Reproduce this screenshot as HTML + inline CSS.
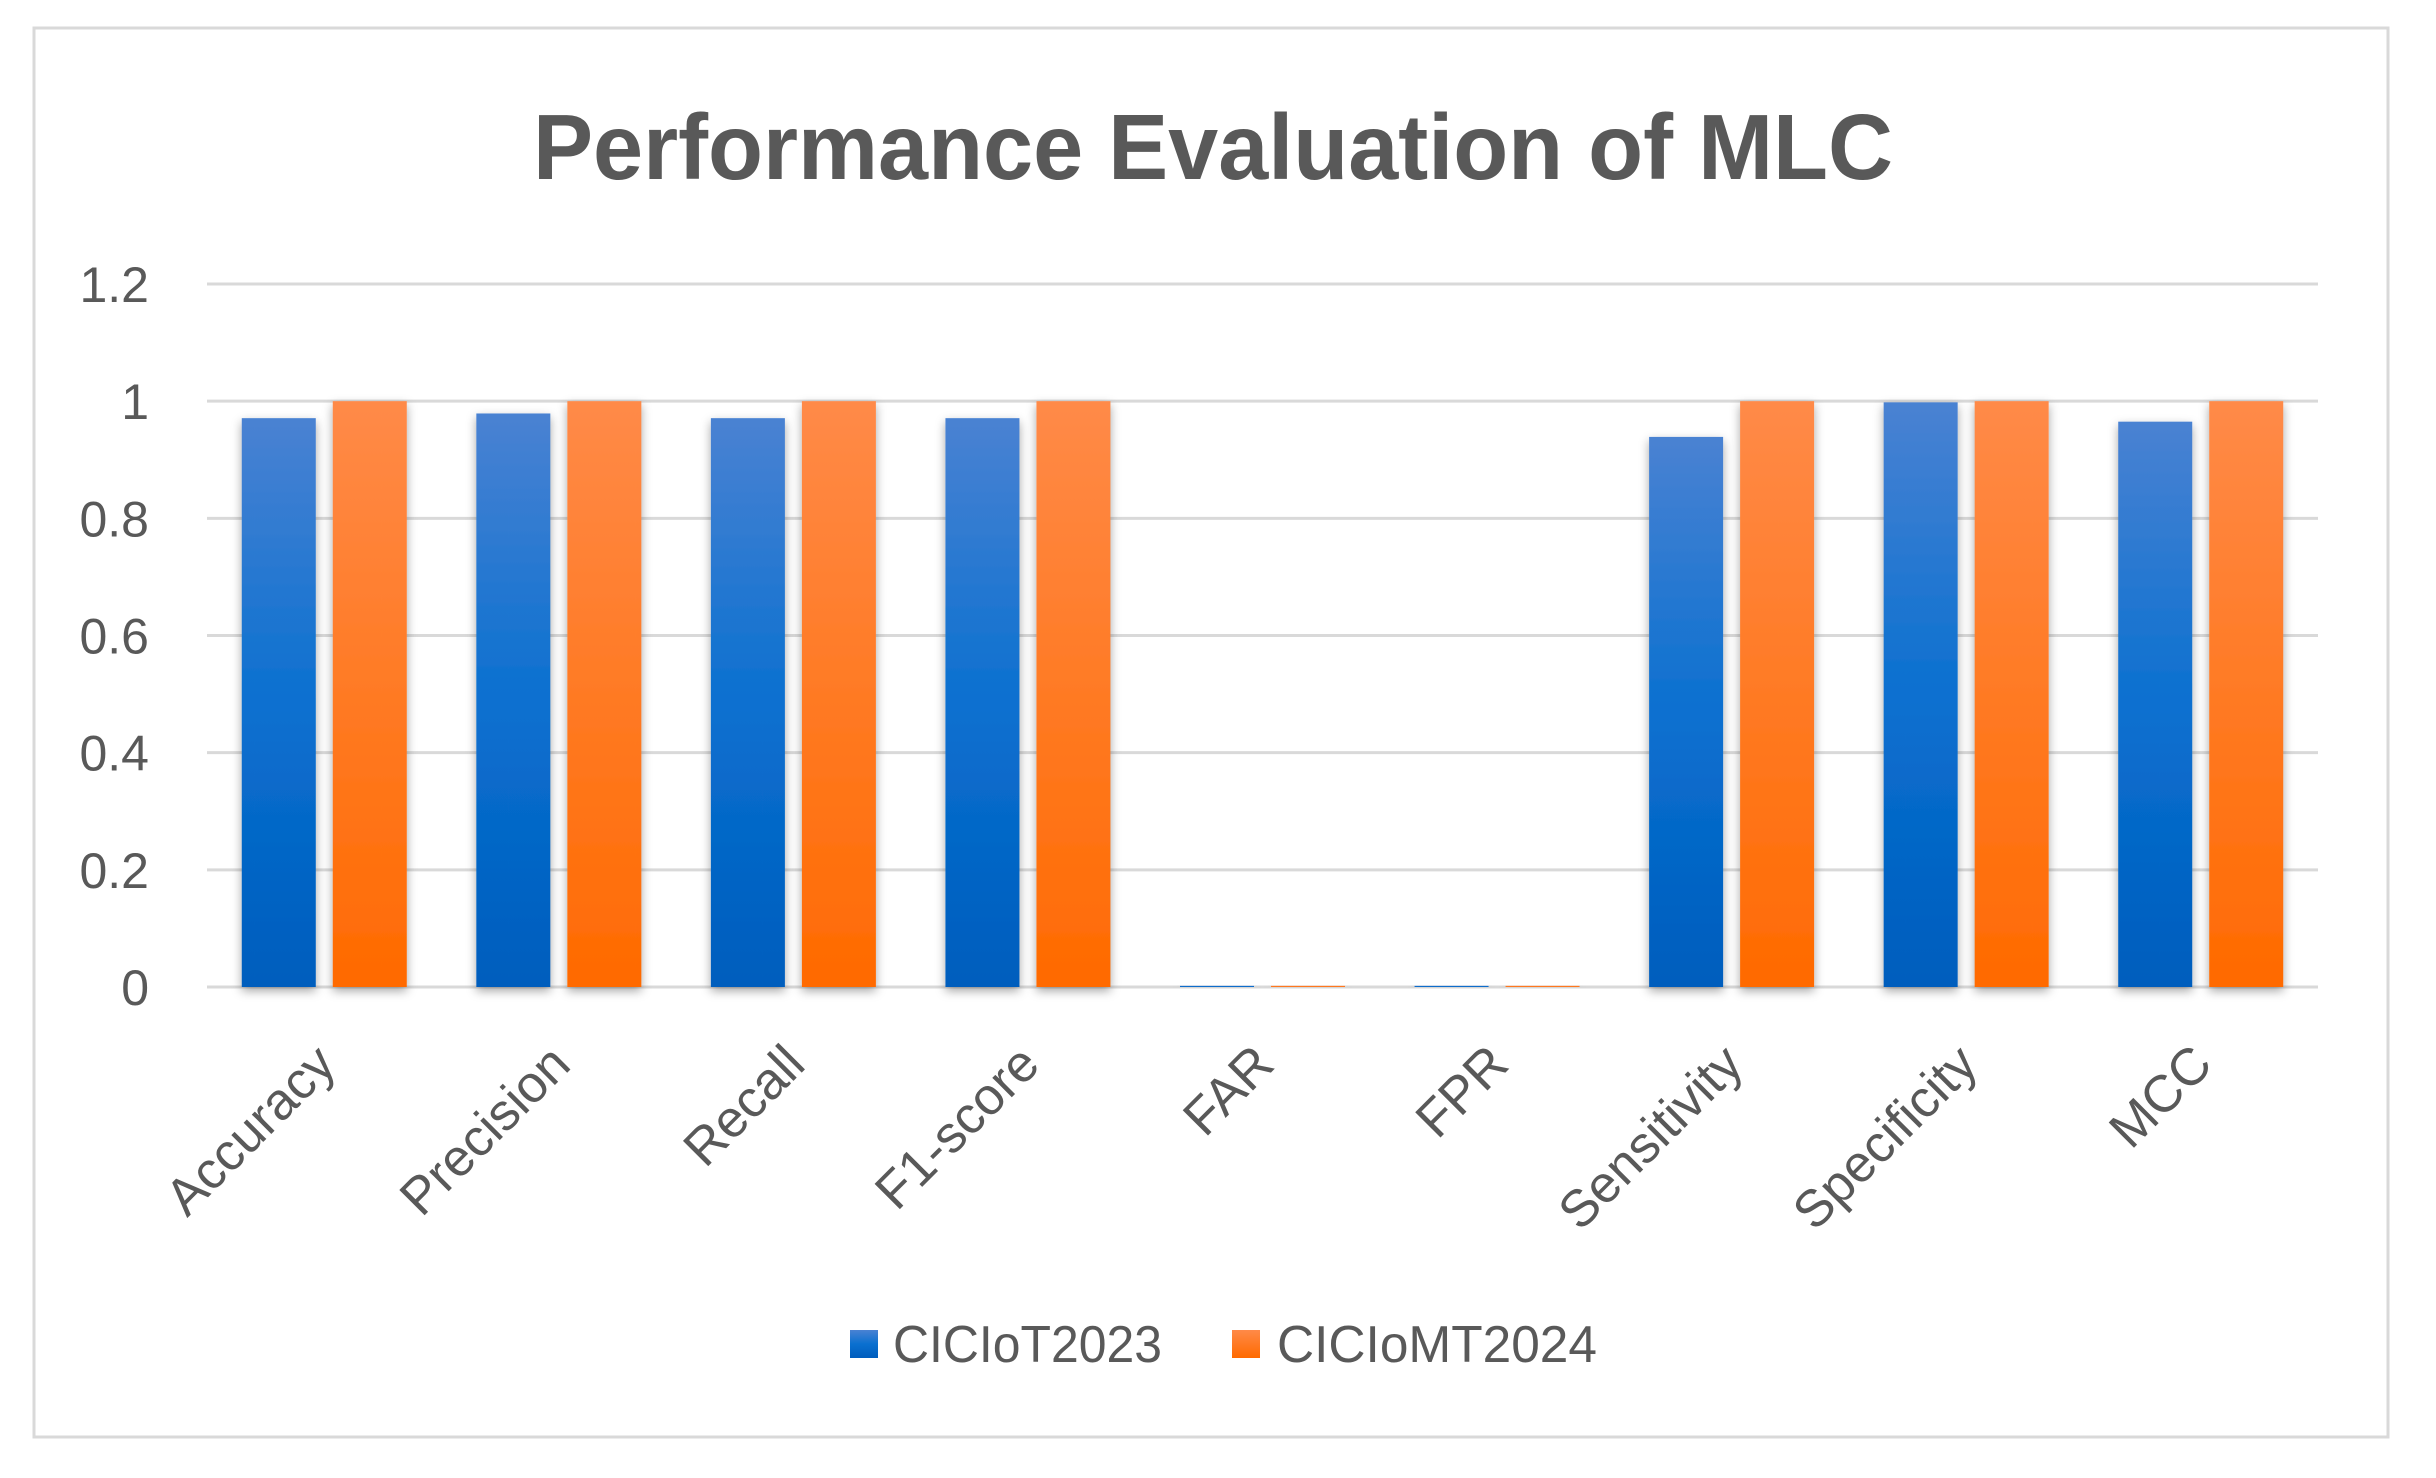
<!DOCTYPE html>
<html><head><meta charset="utf-8"><style>
html,body{margin:0;padding:0;background:#fff;}
svg{display:block;}
text{font-family:"Liberation Sans",sans-serif;fill:#595959;}
</style></head><body>
<svg id="chart" width="2436" height="1478" viewBox="0 0 2436 1478" xmlns="http://www.w3.org/2000/svg">
<defs>
<linearGradient id="gBlue" x1="0" y1="0" x2="0" y2="1"><stop offset="0" stop-color="#4a82d2"/><stop offset="0.5" stop-color="#0a70d0"/><stop offset="1" stop-color="#005dbd"/></linearGradient>
<linearGradient id="gOrange" x1="0" y1="0" x2="0" y2="1"><stop offset="0" stop-color="#ff8a48"/><stop offset="1" stop-color="#ff6a00"/></linearGradient>
<filter id="sh" x="-30%" y="-5%" width="160%" height="115%"><feDropShadow dx="0" dy="4" stdDeviation="5" flood-color="#000" flood-opacity="0.35"/></filter>
</defs>
<rect x="34" y="28" width="2354" height="1409" fill="#fff" stroke="#d9d9d9" stroke-width="3"/>
<text x="533" y="179" font-size="93" font-weight="bold" textLength="1360" lengthAdjust="spacingAndGlyphs">Performance Evaluation of MLC</text>
<g id="grid"></g>
<g id="ylabels"></g>
<g id="bars"></g>
<g id="xlabels"></g>
<g>
<rect x="850" y="1330" width="28" height="28" fill="url(#gBlue)"/>
<text x="893" y="1362" font-size="52" textLength="269" lengthAdjust="spacingAndGlyphs">CICIoT2023</text>
<rect x="1232" y="1330" width="28" height="28" fill="url(#gOrange)"/>
<text x="1277" y="1362" font-size="52" textLength="320" lengthAdjust="spacingAndGlyphs">CICIoMT2024</text>
</g>
</svg>
<script>
const categories = ["Accuracy","Precision","Recall","F1-score","FAR","FPR","Sensitivity","Specificity","MCC"];
const seriesCICIoT2023 = [0.971,0.979,0.971,0.971,0.002,0.002,0.939,0.998,0.965];
const seriesCICIoMT2024 = [1,1,1,1,0.002,0.002,1,1,1];
const yTicks = [0,0.2,0.4,0.6,0.8,1,1.2];
const yTickLabels = ["0","0.2","0.4","0.6","0.8","1","1.2"];

const NS="http://www.w3.org/2000/svg";
const plotL=207, plotR=2318, y0=987, yTop=284, yMax=1.2;
const yScale=v=>y0-(v/yMax)*(y0-yTop);
const catW=(plotR-plotL)/categories.length;
const xCenter=i=>plotL+catW*(i+0.5);
const barW=74, gap=17;
function mk(tag,attrs,parent){const e=document.createElementNS(NS,tag);for(const k in attrs)e.setAttribute(k,attrs[k]);parent.appendChild(e);return e;}

const grid=document.getElementById('grid');
const yl=document.getElementById('ylabels');
yTicks.forEach((t,i)=>{
  const l=mk('line',{x1:plotL,x2:plotR,y1:yScale(t),y2:yScale(t),stroke:'#d9d9d9','stroke-width':3},grid);
  
  
  const tx=mk('text',{x:149,y:yScale(t)+18,'font-size':50,'text-anchor':'end'},yl);
  tx.textContent=yTickLabels[i];
  
  
});

const bars=document.getElementById('bars');
const xl=document.getElementById('xlabels');
categories.forEach((c,i)=>{
  const cx=xCenter(i);
  const v1=seriesCICIoT2023[i], v2=seriesCICIoMT2024[i];
  const b1=mk('rect',{x:cx-gap/2-barW,y:yScale(v1),width:barW,height:y0-yScale(v1),fill:'url(#gBlue)',filter:'url(#sh)'},bars);
  
  
  const b2=mk('rect',{x:cx+gap/2,y:yScale(v2),width:barW,height:y0-yScale(v2),fill:'url(#gOrange)',filter:'url(#sh)'},bars);
  
  
  const tx=mk('text',{x:0,y:0,'font-size':52,'text-anchor':'end',transform:`translate(${cx+14},${y0+80}) rotate(-45)`},xl);
  tx.textContent=c;
  
  
});
</script>
</body></html>
